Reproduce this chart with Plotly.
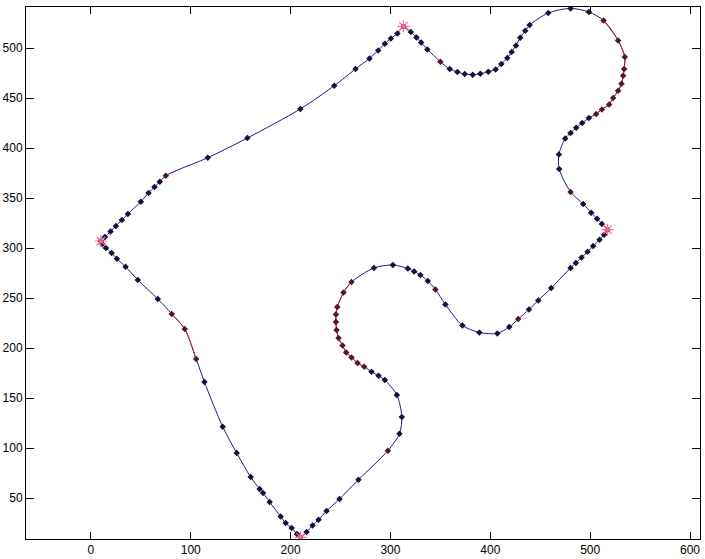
import plotly.graph_objects as go

# closed outline (walked clockwise from the left corner)
path_x = [10, 14, 19.7, 25, 31, 37, 50, 57.7, 63.7, 69, 75, 117, 156.7, 209.7, 243.7,
          265, 279, 287.7, 294.4, 300.4, 307, 313, 320.4, 326, 330.7, 337, 350, 359.4,
          367, 374.4, 382.4, 390, 398, 405.4, 411, 417, 421.4, 425.7, 430, 435, 439.4,
          458, 480.4, 498.7, 513.4, 528, 534.7, 534, 533, 531.4, 528, 523, 519, 511.7,
          506, 498.7, 492, 486, 480.4, 475, 468.7, 469, 480.4, 493, 501, 507, 511.7,
          517.4, 514, 509.4, 503, 497.4, 491.4, 485.7, 480.4, 461, 448, 438.7, 428, 419,
          407, 389, 372, 355, 345, 337.4, 330, 323.7, 317.4, 302.4, 283.4, 261, 253,
          246.7, 245.4, 245.4, 246, 248, 252, 255.7, 261, 267, 273.7, 281, 288, 294.4,
          306.4, 311.4, 309, 297.4, 268, 249, 236, 228, 222, 216, 210, 206.4, 201, 195,
          190, 179, 172.4, 169, 160, 146, 132, 113.7, 105.4, 94, 81, 67, 47, 34.7, 26,
          20.7, 15, 11.4]
path_y = [307, 311, 316.6, 322, 328, 334, 346.3, 355, 361, 366.3, 372.3, 390.3, 410, 439,
          462.3, 479, 489.6, 497.6, 504.3, 509.6, 514.6, 521.6, 516, 510.6, 505.6, 498.6,
          486.3, 479, 476, 474, 473.3, 474.3, 476.3, 478.6, 484, 490, 496, 502.6, 510.3,
          517.3, 523, 535, 539.6, 536, 527.6, 507.6, 491, 479, 472.3, 464.3, 457.3, 450,
          443.6, 438.6, 434, 430, 425, 420.3, 415, 409.6, 393.6, 379, 356, 344, 335.3,
          329.3, 324, 318.3, 313.3, 308.3, 302, 296.3, 290.6, 285, 280, 260, 247.6,
          238.6, 229, 221, 214.6, 215.6, 222.6, 243.6, 258.6, 267, 273, 276.6, 279.6,
          283, 280, 266, 255.6, 241, 233.6, 226, 218, 210, 202.6, 195.6, 190.6, 185,
          181.3, 176.3, 172.3, 168, 153, 131, 114.3, 97.3, 68.3, 49, 37, 28.3, 22.6, 16,
          10.6, 14, 20, 25, 31.6, 46, 55, 59, 71, 95, 121.3, 166, 189, 219, 234, 249,
          268, 281.3, 289.3, 295, 300, 304]

# stretches of the outline drawn in red (index ranges into the path)
red_ranges = [(44, 54), (91, 102), (128, 130)]
# corner points marked with a red asterisk
corner_idx = [0, 21, 67, 116]
# single points drawn in dark red
flag_idx = [10, 26, 62, 78, 84, 109]

BLUE = '#1a1a8c'
RED = '#c8282d'

fig = go.Figure()

# main outline (closed)
fig.add_trace(go.Scatter(
    x=path_x + [path_x[0]], y=path_y + [path_y[0]],
    mode='lines', line=dict(color=BLUE, width=1, shape='spline', smoothing=0.8),
    hoverinfo='skip', showlegend=False))

red_pts = set()
for a, b in red_ranges:
    red_pts.update(range(a, b + 1))
    fig.add_trace(go.Scatter(
        x=path_x[a:b + 1], y=path_y[a:b + 1],
        mode='lines', line=dict(color=RED, width=1, shape='spline', smoothing=0.8),
        hoverinfo='skip', showlegend=False))

dark = [i for i in range(len(path_x)) if i not in red_pts and i not in flag_idx]
reddish = sorted(red_pts) + flag_idx

fig.add_trace(go.Scatter(
    x=[path_x[i] for i in dark], y=[path_y[i] for i in dark],
    mode='markers', marker=dict(symbol='diamond', size=5, color='#12123c'),
    showlegend=False))
fig.add_trace(go.Scatter(
    x=[path_x[i] for i in reddish], y=[path_y[i] for i in reddish],
    mode='markers', marker=dict(symbol='diamond', size=5, color='#5a1428'),
    showlegend=False))

fig.add_trace(go.Scatter(
    x=[path_x[i] for i in corner_idx], y=[path_y[i] for i in corner_idx],
    mode='markers',
    marker=dict(symbol='asterisk-open', size=10, line=dict(color='#d01818', width=1.2)),
    showlegend=False))

axis_style = dict(showline=True, linecolor='black', linewidth=1, mirror='ticks',
                  ticks='inside', tickcolor='black', showgrid=False, zeroline=False,
                  automargin=False,
                  tickfont=dict(family='Arial, Liberation Sans, sans-serif', size=12,
                                color='black'))

fig.update_layout(
    width=705, height=559,
    margin=dict(l=26, r=5, t=7, b=20),
    paper_bgcolor='white', plot_bgcolor='white',
    xaxis=dict(range=[-65, 610], tickvals=[0, 100, 200, 300, 400, 500, 600],
               ticklen=7, **axis_style),
    yaxis=dict(range=[9, 541], tickvals=[50, 100, 150, 200, 250, 300, 350, 400, 450, 500],
               ticklen=8, **axis_style),
)

# drop the page's default 8px body margin so the figure sits flush in the window
fig.write_html("out.html",
               config={'displayModeBar': False},
               post_script="document.body.style.margin='0';"
                           "document.body.style.overflow='hidden';")
